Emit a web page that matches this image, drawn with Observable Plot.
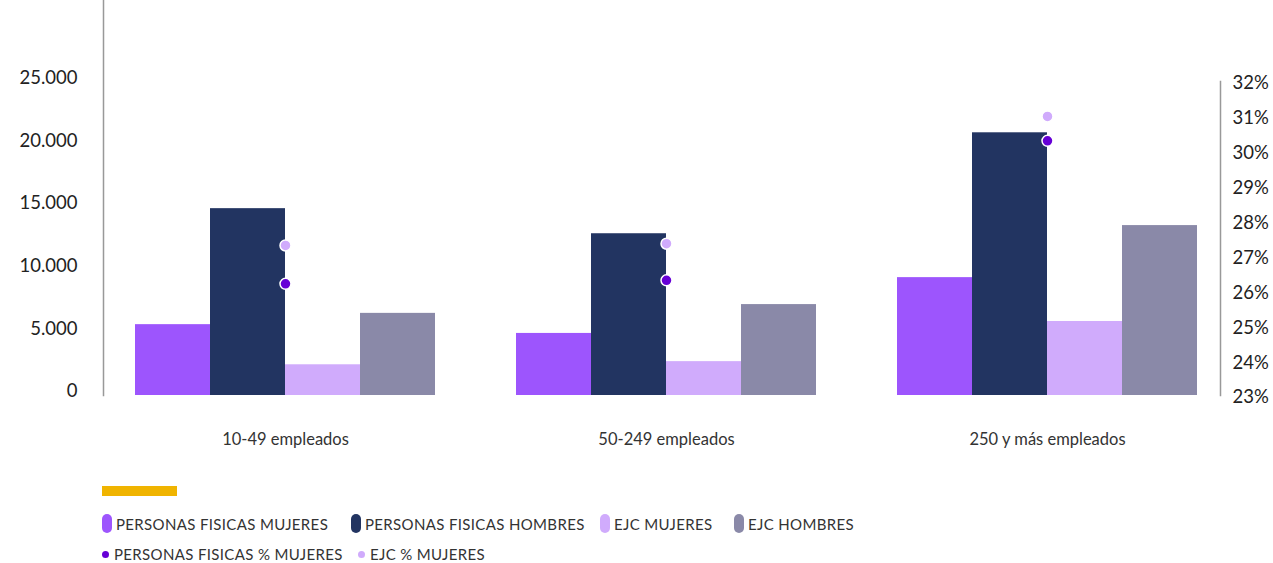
<!DOCTYPE html>
<html>
<head>
<meta charset="utf-8">
<script src="https://cdn.jsdelivr.net/npm/d3@7"></script>
<script src="https://cdn.jsdelivr.net/npm/@observablehq/plot@0.6"></script>
<style>
  body { margin: 0; background: #fff; font-family: Lato, "Open Sans", sans-serif; }
  #wrap { position: relative; width: 1273px; height: 563px; overflow: hidden; }
  #wrap svg { position: absolute; left: 0; top: 0; background: transparent; }
  .bar-yellow { position: absolute; left: 102px; top: 486px; width: 75px; height: 10px; background: #f0b400; }
  .leg { position: absolute; display: flex; align-items: center; font-size: 15px; letter-spacing: 0.35px; color: #333; white-space: nowrap; }
  .sw { display: inline-block; width: 10px; height: 19px; border-radius: 5px; margin-right: 4px; }
  .dot { display: inline-block; width: 7px; height: 7px; border-radius: 50%; margin-right: 5px; }
</style>
</head>
<body>
<div id="wrap"></div>
<script>
const groups = ["10-49 empleados", "50-249 empleados", "250 y más empleados"];
const seriesNames = ["PERSONAS FISICAS MUJERES", "PERSONAS FISICAS HOMBRES", "EJC MUJERES", "EJC HOMBRES"];
const seriesColors = ["#9d55fd", "#223461", "#d0abfc", "#8a89a8"];
const pfMujeres = [5650, 4950, 9400];
const pfHombres = [14900, 12900, 20950];
const ejcMujeres = [2450, 2700, 5900];
const ejcHombres = [6550, 7250, 13550];
const pctNames = ["PERSONAS FISICAS % MUJERES", "EJC % MUJERES"];
const pctColors = ["#6600d6", "#d0abfc"];
const pctPF = [26.2, 26.3, 30.3];
const pctEJC = [27.3, 27.35, 31.0];
const leftTicks = [0, 5000, 10000, 15000, 20000, 25000];
const rightTicks = [23, 24, 25, 26, 27, 28, 29, 30, 31, 32];

const seriesValues = [pfMujeres, pfHombres, ejcMujeres, ejcHombres];
const bars = [];
groups.forEach((g, i) => seriesNames.forEach((s, j) => bars.push({group: g, series: s, value: seriesValues[j][i]})));
const dots = [];
groups.forEach((g, i) => {
  dots.push({group: g, series: pctNames[1], value: pctEJC[i]});
  dots.push({group: g, series: pctNames[0], value: pctPF[i]});
});

const W = 1273, H = 460;
const font = "Lato, 'Open Sans', sans-serif";
const fxOpts = {domain: groups, paddingInner: 0.2084, paddingOuter: 0.0786};

// Bars
const plotA = Plot.plot({
  width: W, height: H,
  marginLeft: 103, marginRight: 45, marginTop: 0, marginBottom: 65,
  style: {fontFamily: font, color: "#333", background: "transparent"},
  fx: {...fxOpts, label: null},
  x: {domain: seriesNames, padding: 0, axis: null},
  y: {domain: [0, 31500], axis: null},
  color: {domain: seriesNames, range: seriesColors},
  marks: [
    Plot.barY(bars, {fx: "group", x: "series", y: "value", fill: "series"}),
    Plot.axisFx({anchor: "bottom", tickSize: 0, tickPadding: 38, fontSize: 16.5, label: null, fill: "#333"})
  ]
});

// Left axis
const plotB = Plot.plot({
  width: W, height: H,
  marginLeft: 103, marginRight: 45, marginTop: 0, marginBottom: 65,
  style: {fontFamily: font, color: "#222", background: "transparent"},
  y: {domain: [0, 31500]},
  marks: [
    Plot.frame({anchor: "left", stroke: "#999", strokeWidth: 1.5, strokeOpacity: 1}),
    Plot.axisY(leftTicks, {anchor: "left", tickSize: 0, tickPadding: 26, fontSize: 18.5, dy: -4, label: null,
      tickFormat: d => d3.format(",")(d).replace(/,/g, ".")})
  ]
});

// Dots (same facet layout as the bars)
const plotC = Plot.plot({
  width: W, height: H,
  marginLeft: 103, marginRight: 45, marginTop: 81, marginBottom: 65,
  style: {fontFamily: font, color: "#222", background: "transparent"},
  fx: {...fxOpts, axis: null},
  y: {domain: [23, 32], axis: null},
  color: {domain: pctNames, range: pctColors},
  marks: [
    Plot.dot(dots, {fx: "group", y: "value", fill: "series", r: 5.5, stroke: "white", strokeWidth: 1.5})
  ]
});

// Right axis
const plotD = Plot.plot({
  width: W, height: H,
  marginLeft: 103, marginRight: 53, marginTop: 81, marginBottom: 65,
  style: {fontFamily: font, color: "#222", background: "transparent"},
  y: {domain: [23, 32]},
  marks: [
    Plot.frame({anchor: "right", stroke: "#999", strokeWidth: 1.5, strokeOpacity: 1}),
    Plot.axisY(rightTicks, {anchor: "right", tickSize: 0, tickPadding: 12, fontSize: 18.5, dy: 2, label: null,
      tickFormat: d => d + "%"})
  ]
});

const wrap = document.getElementById("wrap");
[plotA, plotB, plotC, plotD].forEach(p => wrap.appendChild(p));

// Legend
const yb = document.createElement("div");
yb.className = "bar-yellow";
wrap.appendChild(yb);

const row1X = [102, 351, 600, 734];
seriesNames.forEach((s, i) => {
  const d = document.createElement("div");
  d.className = "leg";
  d.style.left = row1X[i] + "px";
  d.style.top = "514px";
  d.innerHTML = `<span class="sw" style="background:${seriesColors[i]}"></span><span>${s}</span>`;
  wrap.appendChild(d);
});
const row2X = [102, 358];
pctNames.forEach((s, i) => {
  const d = document.createElement("div");
  d.className = "leg";
  d.style.left = row2X[i] + "px";
  d.style.top = "545px";
  d.innerHTML = `<span class="dot" style="background:${pctColors[i]}"></span><span>${s}</span>`;
  wrap.appendChild(d);
});
</script>
</body>
</html>
